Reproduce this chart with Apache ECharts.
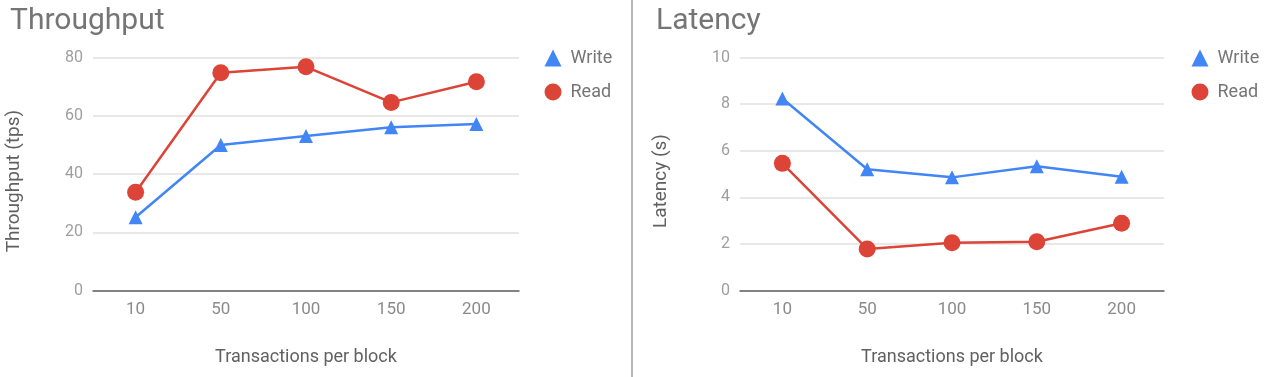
<!DOCTYPE html>
<html>
<head>
<meta charset="utf-8">
<script src="https://cdn.jsdelivr.net/npm/echarts@6/dist/echarts.min.js"></script>
<style>
html,body{margin:0;padding:0;background:#fff;}
#c{width:1269px;height:377px;}
</style>
</head>
<body>
<div id="c"></div>
<script>
const categories = ['10', '50', '100', '150', '200'];
const throughputWrite = [25.2, 50.0, 53.1, 56.1, 57.2];
const throughputRead = [33.8, 74.8, 76.8, 64.6, 71.7];
const latencyWrite = [8.24, 5.21, 4.86, 5.34, 4.89];
const latencyRead = [5.46, 1.79, 2.06, 2.10, 2.89];
const seriesNames = ['Write', 'Read'];

const BLUE = '#4285f4', RED = '#db4437';
const FONT = 'Roboto';
const chart = echarts.init(document.getElementById('c'));

function xAxis(i) {
  return {
    type: 'category', gridIndex: i, data: categories, boundaryGap: true,
    name: 'Transactions per block', nameLocation: 'middle', nameGap: 58,
    nameTextStyle: {color: '#616161', fontSize: 18, fontFamily: FONT},
    axisLine: {lineStyle: {color: '#616161', width: 1.5}},
    axisTick: {show: false},
    axisLabel: {color: '#8a8a8a', fontSize: 17, fontFamily: FONT, margin: 11}
  };
}
function yAxis(i, name, max, interval) {
  return {
    type: 'value', gridIndex: i, min: 0, max: max, interval: interval,
    name: name, nameLocation: 'middle', nameGap: 69,
    nameTextStyle: {color: '#616161', fontSize: 19, fontFamily: FONT, padding: [0, 14, 0, 0]},
    axisLine: {show: false}, axisTick: {show: false},
    splitLine: {lineStyle: {color: '#e0e0e0', width: 1.5}},
    axisLabel: {color: '#9e9e9e', fontSize: 16, fontFamily: FONT, margin: 10}
  };
}
function s(name, data, i, color, symbol, size) {
  return {
    name: name, type: 'line', xAxisIndex: i, yAxisIndex: i, data: data,
    symbol: symbol, symbolSize: size, color: color,
    lineStyle: {color: color, width: 2.5},
    itemStyle: {color: color}, emphasis: {disabled: true}, animation: false
  };
}
function legend(left) {
  return {
    orient: 'vertical', left: left, top: 44, itemGap: 16, itemWidth: 17, itemHeight: 17,
    data: [{name: seriesNames[0], icon: 'triangle'}, {name: seriesNames[1], icon: 'circle'}],
    textStyle: {color: '#757575', fontSize: 18, fontFamily: FONT, padding: [0, 0, 0, 4]},
    selectedMode: false
  };
}

chart.setOption({
  animation: false,
  title: [
    {text: 'Throughput', left: 5, top: 1, textStyle: {color: '#757575', fontSize: 30, fontWeight: 'normal', fontFamily: FONT}},
    {text: 'Latency', left: 651, top: 1, textStyle: {color: '#757575', fontSize: 30, fontWeight: 'normal', fontFamily: FONT}}
  ],
  grid: [
    {left: 93, width: 426, top: 57.5, bottom: 86.3},
    {left: 740, width: 424, top: 57.5, bottom: 86.3}
  ],
  legend: [legend(539.5), legend(1186.5)],
  xAxis: [xAxis(0), xAxis(1)],
  yAxis: [yAxis(0, 'Throughput (tps)', 80, 20), yAxis(1, 'Latency (s)', 10, 2)],
  series: [
    s(seriesNames[0], throughputWrite, 0, BLUE, 'triangle', 14),
    s(seriesNames[1], throughputRead, 0, RED, 'circle', 17),
    s(seriesNames[0], latencyWrite, 1, BLUE, 'triangle', 14),
    s(seriesNames[1], latencyRead, 1, RED, 'circle', 17)
  ],
  graphic: [
    {type: 'line', shape: {x1: 632, y1: 0, x2: 632, y2: 377}, style: {stroke: '#9e9e9e', lineWidth: 1.5}}
  ]
});
</script>
</body>
</html>
